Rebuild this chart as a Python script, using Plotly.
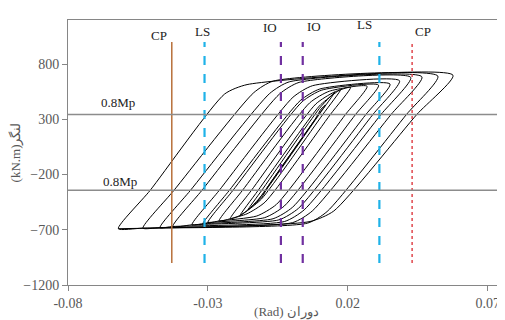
import plotly.graph_objects as go

# ---- hysteresis cycles ----
cyc_xn = [-0.0125, -0.0157, -0.0185, -0.022, -0.026, -0.030, -0.0318, -0.0357, -0.0425, -0.0471, -0.0532, -0.062]
cyc_mn = [-450, -520, -570, -600, -620, -635, -645, -655, -670, -680, -685, -690]
cyc_xp = [0.0120, 0.0154, 0.0175, 0.021, 0.0269, 0.031, 0.0351, 0.0385, 0.0425, 0.0465, 0.0522, 0.0576]
cyc_mp = [430, 547, 570, 590, 600, 610, 620, 650, 680, 685, 692, 700]
# reloading branch: elastic point, then knees
up_a_x = [-0.0096, -0.0108, -0.0121, -0.0145, -0.0177, -0.0211, -0.0224, -0.0260, -0.0322, -0.0363, -0.0422, -0.0507]
up_a_m = [-345, -345, -345, -345, -345, -345, -345, -345, -345, -345, -345, -345]
up_k1_x = [0.0083, 0.0098, 0.0098, 0.0086, 0.0064, 0.0037, 0.0030, 0.0004, -0.0044, -0.0079, -0.0136, -0.024]
up_k1_m = [300, 397, 420, 440, 450, 460, 470, 500, 530, 535, 542, 530]
up_k2_x = [0.0105, 0.0135, 0.0148, 0.0150, 0.0134, 0.0107, 0.0100, 0.0074, 0.0026, -0.0009, -0.0066, -0.016]
up_k2_m = [395, 500, 525, 545, 555, 565, 575, 605, 635, 640, 647, 615]
# unloading branch: elastic point, then knees
dn_a_x = [0.0096, 0.0098, 0.0111, 0.0138, 0.0192, 0.0228, 0.0265, 0.0290, 0.0319, 0.0355, 0.0410, 0.0447]
dn_a_m = [345, 345, 345, 345, 345, 345, 345, 345, 345, 345, 345, 345]
dn_k1_x = [-0.0083, -0.0101, -0.0108, -0.0096, -0.0055, -0.0027, 0.0003, 0.0024, 0.0044, 0.0073, 0.0126, 0.0150]
dn_k1_m = [-300, -370, -420, -450, -470, -485, -495, -505, -520, -530, -535, -530]
dn_k2_x = [-0.0108, -0.0138, -0.0158, -0.016, -0.0125, -0.0097, -0.0067, -0.0046, -0.0026, 0.0003, 0.0056, 0.0065]
dn_k2_m = [-410, -475, -525, -555, -575, -590, -600, -610, -625, -635, -640, -625]

# ---- performance level lines ----
level_names = ["CP", "LS", "IO", "IO", "LS", "CP"]
level_x = [-0.0429, -0.0312, -0.0039, 0.0039, 0.0313, 0.0430]
level_colors = ["#B8703A", "#1FB2E8", "#7030A0", "#7030A0", "#1FB2E8", "#E0474C"]
level_dash = ["solid", "dash", "dash", "dash", "dash", "dot"]
level_width = [1.5, 2.2, 2.2, 2.2, 2.2, 1.5]
level_label_x = [-0.0475, -0.0318, -0.0078, 0.0079, 0.0261, 0.0469]
level_label_y = [1062, 1098, 1134, 1143, 1162, 1098]
level_y_extent = [-1000, 1000]

mp_levels = [345, -342]
mp_label = "0.8Mp"
mp_label_x = [-0.0621, -0.0614]
mp_label_y = [456, -267]

x_ticks = [-0.08, -0.03, 0.02, 0.07]
x_ticktext = ["-0.08", "-0.03", "0.02", "0.07"]
y_ticks = [-1200, -700, -200, 300, 800]

xs, ys = [], []
for i in range(len(cyc_xn)):
    xs += [cyc_xn[i], up_a_x[i], up_k1_x[i], up_k2_x[i], cyc_xp[i],
           dn_a_x[i], dn_k1_x[i], dn_k2_x[i], cyc_xn[i]]
    ys += [cyc_mn[i], up_a_m[i], up_k1_m[i], up_k2_m[i], cyc_mp[i],
           dn_a_m[i], dn_k1_m[i], dn_k2_m[i], cyc_mn[i]]

fig = go.Figure()
fig.add_trace(go.Scatter(x=xs, y=ys, mode="lines",
                         line=dict(color="black", width=1, shape="spline", smoothing=0.6),
                         hoverinfo="skip", showlegend=False))

serif = "Liberation Serif, Times New Roman, DejaVu Serif, serif"

for i in range(len(level_x)):
    fig.add_shape(type="line", x0=level_x[i], x1=level_x[i], y0=level_y_extent[0], y1=level_y_extent[1],
                  xref="x", yref="y",
                  line=dict(color=level_colors[i], width=level_width[i], dash=level_dash[i]))
    fig.add_annotation(x=level_label_x[i], y=level_label_y[i], text=level_names[i], showarrow=False,
                       font=dict(family=serif, size=13, color="#222"))

for i in range(len(mp_levels)):
    fig.add_shape(type="line", x0=0, x1=1, xref="x domain", y0=mp_levels[i], y1=mp_levels[i], yref="y",
                  line=dict(color="#8C8C8C", width=1.5))
    fig.add_annotation(x=mp_label_x[i], y=mp_label_y[i], text=mp_label, showarrow=False,
                       font=dict(family=serif, size=13, color="#222"))

fig.update_layout(
    width=497, height=312,
    margin=dict(l=60, r=0, t=12, b=35),
    paper_bgcolor="white", plot_bgcolor="white",
    font=dict(family=serif, size=14, color="#595959"),
    xaxis=dict(range=[-0.08, 0.0762], tickvals=x_ticks, ticktext=x_ticktext,
               showgrid=False, zeroline=False, showline=True, linecolor="#868686", linewidth=1,
               mirror=True, ticks="outside", ticklen=5, tickcolor="#868686",
               tickfont=dict(family=serif, size=14, color="#595959"),
               title=dict(text="(Rad) دوران", font=dict(family=serif, size=13, color="#595959"), standoff=0)),
    yaxis=dict(range=[-1200, 1200], tickvals=y_ticks,
               showgrid=False, zeroline=False, showline=True, linecolor="#868686", linewidth=1,
               ticks="outside", ticklen=5, tickcolor="#868686",
               tickfont=dict(family=serif, size=14, color="#595959"),
               title=dict(text="(kN.m)لنگر", font=dict(family=serif, size=13, color="#595959"), standoff=4)),
)

fig.write_html("out.html")
